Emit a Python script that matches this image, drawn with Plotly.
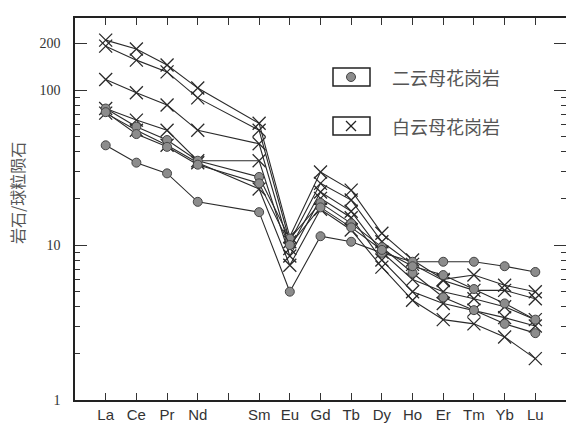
import plotly.graph_objects as go

# ---------------- data ----------------
elements = ["La", "Ce", "Pr", "Nd", "Pm", "Sm", "Eu", "Gd", "Tb", "Dy", "Ho", "Er", "Tm", "Yb", "Lu"]
tick_labels = ["La", "Ce", "Pr", "Nd", "", "Sm", "Eu", "Gd", "Tb", "Dy", "Ho", "Er", "Tm", "Yb", "Lu"]

# 二云母花岗岩 (circles); Pm is not measured (None)
circle_1 = [44, 34, 29, 19, None, 16.3, 5.0, 11.4, 10.5, 8.9, 7.8, 7.8, 7.8, 7.3, 6.7]
circle_2 = [76, 58, 47.6, 35, None, 27.5, 11.0, 18.7, 13.8, 9.7, 6.6, 4.6, 3.8, 3.1, 2.7]
circle_3 = [72, 52, 43, 33, None, 25, 10.0, 17.5, 13.0, 9.3, 7.3, 6.4, 5.2, 4.2, 3.3]

# 白云母花岗岩 (crosses)
cross_1 = [210, 184, 145, 103, None, 61, 11.3, 29.6, 22.6, 11.9, 8.0, 6.0, 6.4, 5.5, 5.0]
cross_2 = [192, 156, 131, 89, None, 55, 10.5, 25.0, 19.5, 10.5, 7.5, 5.9, 5.1, 5.1, 4.5]
cross_3 = [117, 96, 80, 55, None, 45, 9.5, 22.0, 16.5, 9.0, 6.0, 5.0, 4.5, 4.0, 3.3]
cross_4 = [76, 64, 55, 35, None, 35, 8.5, 20.0, 15.0, 8.0, 5.0, 4.2, 3.8, 3.4, 3.0]
cross_5 = [71, 55, 44, 34, None, 23, 7.4, 17.0, 12.5, 7.2, 4.4, 3.3, 3.1, 2.55, 1.85]

circle_series = [circle_1, circle_2, circle_3]
cross_series = [cross_1, cross_2, cross_3, cross_4, cross_5]

legend_labels = ["二云母花岗岩", "白云母花岗岩"]
y_title = "岩石/球粒陨石"
y_tick_vals = [1, 10, 100, 200]

# ---------------- figure ----------------
x = list(range(len(elements)))
line_col = "#2a2a2a"
fig = go.Figure()

for s in cross_series:
    fig.add_trace(go.Scatter(
        x=x, y=s, mode="lines+markers", connectgaps=True, showlegend=False,
        line=dict(color=line_col, width=1.1),
        marker=dict(symbol="x-thin-open", size=13, color=line_col,
                    line=dict(color=line_col, width=1.3)),
    ))
for s in circle_series:
    fig.add_trace(go.Scatter(
        x=x, y=s, mode="lines+markers", connectgaps=True, showlegend=False,
        line=dict(color=line_col, width=1.1),
        marker=dict(symbol="circle", size=9, color="#8c8c8c",
                    line=dict(color="#444444", width=1)),
    ))

# plot area in pixels: x 75..566, y 18..400
L, R, T, B = 75, 566, 18, 400
W, H = 566, 432


def px(xp):
    return (xp - L) / (R - L)


def py(yp):
    return (B - yp) / (B - T)


shapes = []
for (y0, y1) in [(68, 86), (117, 135)]:
    shapes.append(dict(type="rect", xref="paper", yref="paper",
                       x0=px(333), x1=px(370), y0=py(y1), y1=py(y0),
                       line=dict(color="#222222", width=1.5), fillcolor="white"))
shapes.append(dict(type="circle", xref="paper", yref="paper",
                   x0=px(346.5), x1=px(355.5), y0=py(81.5), y1=py(72.5),
                   line=dict(color="#444444", width=1), fillcolor="#8c8c8c"))
shapes.append(dict(type="line", xref="paper", yref="paper",
                   x0=px(346), x1=px(356), y0=py(131), y1=py(121),
                   line=dict(color="#222222", width=1.3)))
shapes.append(dict(type="line", xref="paper", yref="paper",
                   x0=px(346), x1=px(356), y0=py(121), y1=py(131),
                   line=dict(color="#222222", width=1.3)))

cjk = "Noto Sans CJK SC"
annotations = [
    dict(text=legend_labels[0], xref="paper", yref="paper", x=px(390), y=py(77),
         xanchor="left", yanchor="middle", showarrow=False,
         font=dict(family=cjk, size=18, color="#555555")),
    dict(text=legend_labels[1], xref="paper", yref="paper", x=px(390), y=py(126),
         xanchor="left", yanchor="middle", showarrow=False,
         font=dict(family=cjk, size=18, color="#555555")),
    dict(text=y_title, xref="paper", yref="paper", x=px(17), y=py(193),
         xanchor="center", yanchor="middle", showarrow=False, textangle=-90,
         font=dict(family=cjk, size=16, color="#555555")),
]

fig.update_layout(
    width=W, height=H,
    margin=dict(l=L, r=W - R, t=T, b=H - B, pad=0, autoexpand=False),
    paper_bgcolor="white", plot_bgcolor="white",
    shapes=shapes, annotations=annotations,
    showlegend=False,
)
fig.update_xaxes(
    range=[-1, 15], tickmode="array", tickvals=x, ticktext=tick_labels,
    ticks="inside", ticklen=7, tickwidth=1, tickcolor="#333333",
    showline=True, linecolor="#222222", linewidth=1.5, mirror="ticks",
    showgrid=False, zeroline=False, automargin=False,
    tickfont=dict(family="Liberation Sans", size=15, color="#333333"),
)
fig.update_yaxes(
    type="log", range=[0, 2.465],
    tickmode="array", tickvals=y_tick_vals, ticktext=[str(v) for v in y_tick_vals],
    ticks="inside", ticklen=12, tickwidth=1, tickcolor="#333333",
    minor=dict(dtick="D1", ticks="inside", ticklen=5, tickwidth=1,
               tickcolor="#333333", showgrid=False),
    showline=True, linecolor="#222222", linewidth=1.5, mirror="ticks",
    showgrid=False, zeroline=False, automargin=False,
    ticklabelstandoff=10,
    tickfont=dict(family="Liberation Serif", size=14, color="#333333"),
)

fig.write_html("out.html", config={"displayModeBar": False},
               post_script="document.body.style.margin='0px';document.body.style.overflow='hidden';")
